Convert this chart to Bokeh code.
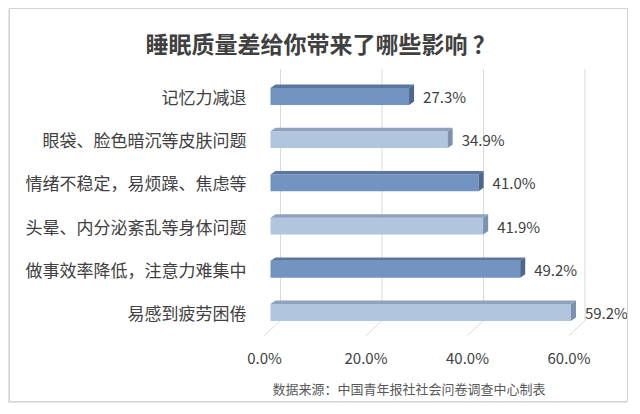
from bokeh.plotting import figure
from bokeh.models import (Range1d, LinearAxis, FixedTicker, PrintfTickFormatter, Title, Spacer)
from bokeh.layouts import row, column
from bokeh.core.properties import value
from bokeh.embed import file_html
from bokeh.resources import INLINE

# ---- data (top to bottom in the chart) ----
categories = ["记忆力减退", "眼袋、脸色暗沉等皮肤问题", "情绪不稳定，易烦躁、焦虑等",
              "头晕、内分泌紊乱等身体问题", "做事效率降低，注意力难集中", "易感到疲劳困倦"]
values = [27.3, 34.9, 41.0, 41.9, 49.2, 59.2]
x_ticks = [0, 20, 40, 60]
title_text = "睡眠质量差给你带来了哪些影响 ？"
source_text = "数据来源：中国青年报社社会问卷调查中心制表"

FONT = "Noto Sans CJK SC"
n = len(categories)
ypos = [n - 1 - k for k in range(n)]          # top category highest
dark = [k % 2 == 0 for k in range(n)]

front_col = ["#7393c0" if d else "#b2c5df" for d in dark]
top_col = ["#58769f" if d else "#8ea2be" for d in dark]
side_col = ["#4d668c" if d else "#7d91ad" for d in dark]

# 3D styling offsets (data units)
dx, dy = 0.99, 0.08
hh = 0.195
back_off, front_off = 1.97, -1.18
y_top, y_floor, y_bottom = 5.63, -0.185, -0.532

x0, x1 = -2.364, 70.54
p = figure(width=619, height=394, output_backend="svg", toolbar_location=None,
           x_range=Range1d(x0, x1), y_range=Range1d(-0.602, 5.648),
           x_axis_location=None, min_border_left=248, min_border_right=1,
           min_border_top=59, min_border_bottom=65, tools="")
p.styles = {"border": "1px solid #d4d4d4", "box-shadow": "-1px 1px 0 #e4e4e4"}
p.outline_line_color = None
p.background_fill_color = "white"
p.border_fill_color = "white"
p.xgrid.visible = False
p.ygrid.visible = False

p.extra_x_ranges = {"front": Range1d(x0 - front_off, x1 - front_off)}
xa = LinearAxis(x_range_name="front", ticker=FixedTicker(ticks=x_ticks),
                formatter=PrintfTickFormatter(format="%.1f%%"))
xa.axis_line_color = None
xa.major_tick_line_color = None
xa.minor_tick_line_color = None
xa.major_label_standoff = 2
xa.major_label_text_font = FONT
xa.major_label_text_font_size = "15px"
xa.major_label_text_color = "#404040"
p.add_layout(xa, "below")

ya = p.yaxis[0]
ya.ticker = FixedTicker(ticks=ypos)
ya.major_label_overrides = {yy: c for yy, c in zip(ypos, categories)}
ya.axis_line_color = None
ya.major_tick_line_color = None
ya.minor_tick_line_color = None
ya.major_label_standoff = 6
ya.major_label_text_font = FONT
ya.major_label_text_font_size = "17px"
ya.major_label_text_color = "#404040"

# 3D gridlines
gx = [t + back_off for t in x_ticks]
p.segment(x0=gx, x1=gx, y0=[y_top] * len(x_ticks), y1=[y_floor] * len(x_ticks),
          line_color="#d9d9d9", line_width=1)
p.segment(x0=gx, x1=[t + front_off for t in x_ticks], y0=[y_floor] * len(x_ticks),
          y1=[y_bottom] * len(x_ticks), line_color="#d9d9d9", line_width=1)

# bars: front faces
p.hbar(y=ypos, left=0, right=values, height=2 * hh, fill_color=front_col, line_color=None)
# top faces
p.patches(xs=[[0, v, v + dx, dx] for v in values],
          ys=[[y + hh, y + hh, y + hh + dy, y + hh + dy] for y in ypos],
          fill_color=top_col, line_color=None)
# side faces
p.patches(xs=[[v, v + dx, v + dx, v] for v in values],
          ys=[[y - hh, y - hh + dy, y + hh + dy, y + hh] for y in ypos],
          fill_color=side_col, line_color=None)

# value labels
p.text(x=[v + dx for v in values], y=ypos, text=[f"{v:.1f}%" for v in values],
       x_offset=9, text_baseline="middle", text_align="left",
       text_font=value(FONT), text_font_size="15px", text_color="#404040")

t = Title(text=title_text, align="left", offset=-113, standoff=18,
          text_font=FONT, text_font_size="23px", text_font_style="bold",
          text_color="#404040")
p.add_layout(t, "above")

f = Title(text=source_text, align="left", offset=14, standoff=12,
          text_font=FONT, text_font_size="13px", text_font_style="normal",
          text_color="#595959")
p.add_layout(f, "below")

layout = column(Spacer(width=1, height=8), row(Spacer(width=9, height=1), p))
open("out.html", "w").write(file_html(layout, INLINE))
